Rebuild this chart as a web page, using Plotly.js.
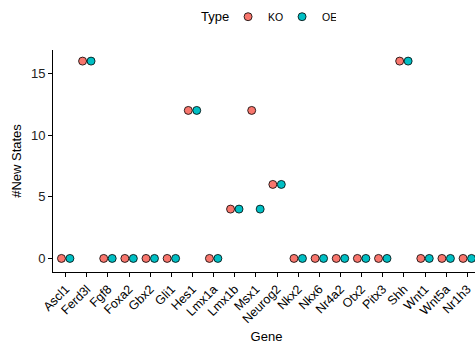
<!DOCTYPE html>
<html>
<head>
<meta charset="utf-8">
<script src="https://cdn.plot.ly/plotly-3.0.1.min.js"></script>
<style>html,body{margin:0;padding:0;overflow:hidden;background:#fff;}</style>
</head>
<body>
<div id="chart"></div>
<script>
var genes = ["Ascl1","Ferd3l","Fgf8","Foxa2","Gbx2","Gli1","Hes1","Lmx1a","Lmx1b","Msx1","Neurog2","Nkx2","Nkx6","Nr4a2","Otx2","Pitx3","Shh","Wnt1","Wnt5a","Nr1h3"];
var koValues = [0,16,0,0,0,0,12,0,4,12,6,0,0,0,0,0,16,0,0,0];
var oeValues = [0,16,0,0,0,0,12,0,4,4,6,0,0,0,0,0,16,0,0,0];
var legendTitle = "Type";

var font = "Liberation Sans, Arial, sans-serif";
var traces = [
  {type:"scatter", mode:"markers", name:"KO", x:genes, y:koValues, offsetgroup:"KO",
   marker:{color:"#F8766D", size:8, line:{color:"#000", width:0.8}}, cliponaxis:false},
  {type:"scatter", mode:"markers", name:"OE", x:genes, y:oeValues, offsetgroup:"OE",
   marker:{color:"#00BFC4", size:8, line:{color:"#000", width:0.8}}, cliponaxis:false}
];
var layout = {
  width:480, height:348,
  margin:{l:53, r:0, t:50, b:76},
  paper_bgcolor:"#fff", plot_bgcolor:"#fff",
  font:{family:font, size:12, color:"#000"},
  scattermode:"group", scattergap:0.2,
  showlegend:true,
  legend:{orientation:"h", x:0.41, xanchor:"left", y:1.15, yanchor:"middle",
    font:{size:10.5}, entrywidth:9, entrywidthmode:"pixels", itemwidth:30, tracegroupgap:0},
  annotations:[{text:legendTitle, xref:"paper", yref:"paper", x:0.342, xanchor:"left",
    y:1.15, yanchor:"middle", showarrow:false, font:{size:13}}],
  xaxis:{type:"category", categoryorder:"array", categoryarray:genes, range:[-0.6,19.6],
    showgrid:false, zeroline:false, showline:true, linecolor:"#000", linewidth:1,
    ticks:"outside", ticklen:4, tickcolor:"#000", tickangle:-45, tickfont:{size:12.5, color:"#000"},
    title:{text:"Gene", font:{size:13}, standoff:6}},
  yaxis:{range:[-1.1,16.9], tickvals:[0,5,10,15], ticktext:["0","5","10","15"],
    showgrid:false, zeroline:false, showline:true, linecolor:"#000", linewidth:1,
    ticks:"outside", ticklen:4, tickcolor:"#000", tickfont:{size:13, color:"#222"},
    title:{text:"#New States", font:{size:13}, standoff:6}}
};
Plotly.newPlot("chart", traces, layout, {displayModeBar:false, staticPlot:true});
</script>
</body>
</html>
